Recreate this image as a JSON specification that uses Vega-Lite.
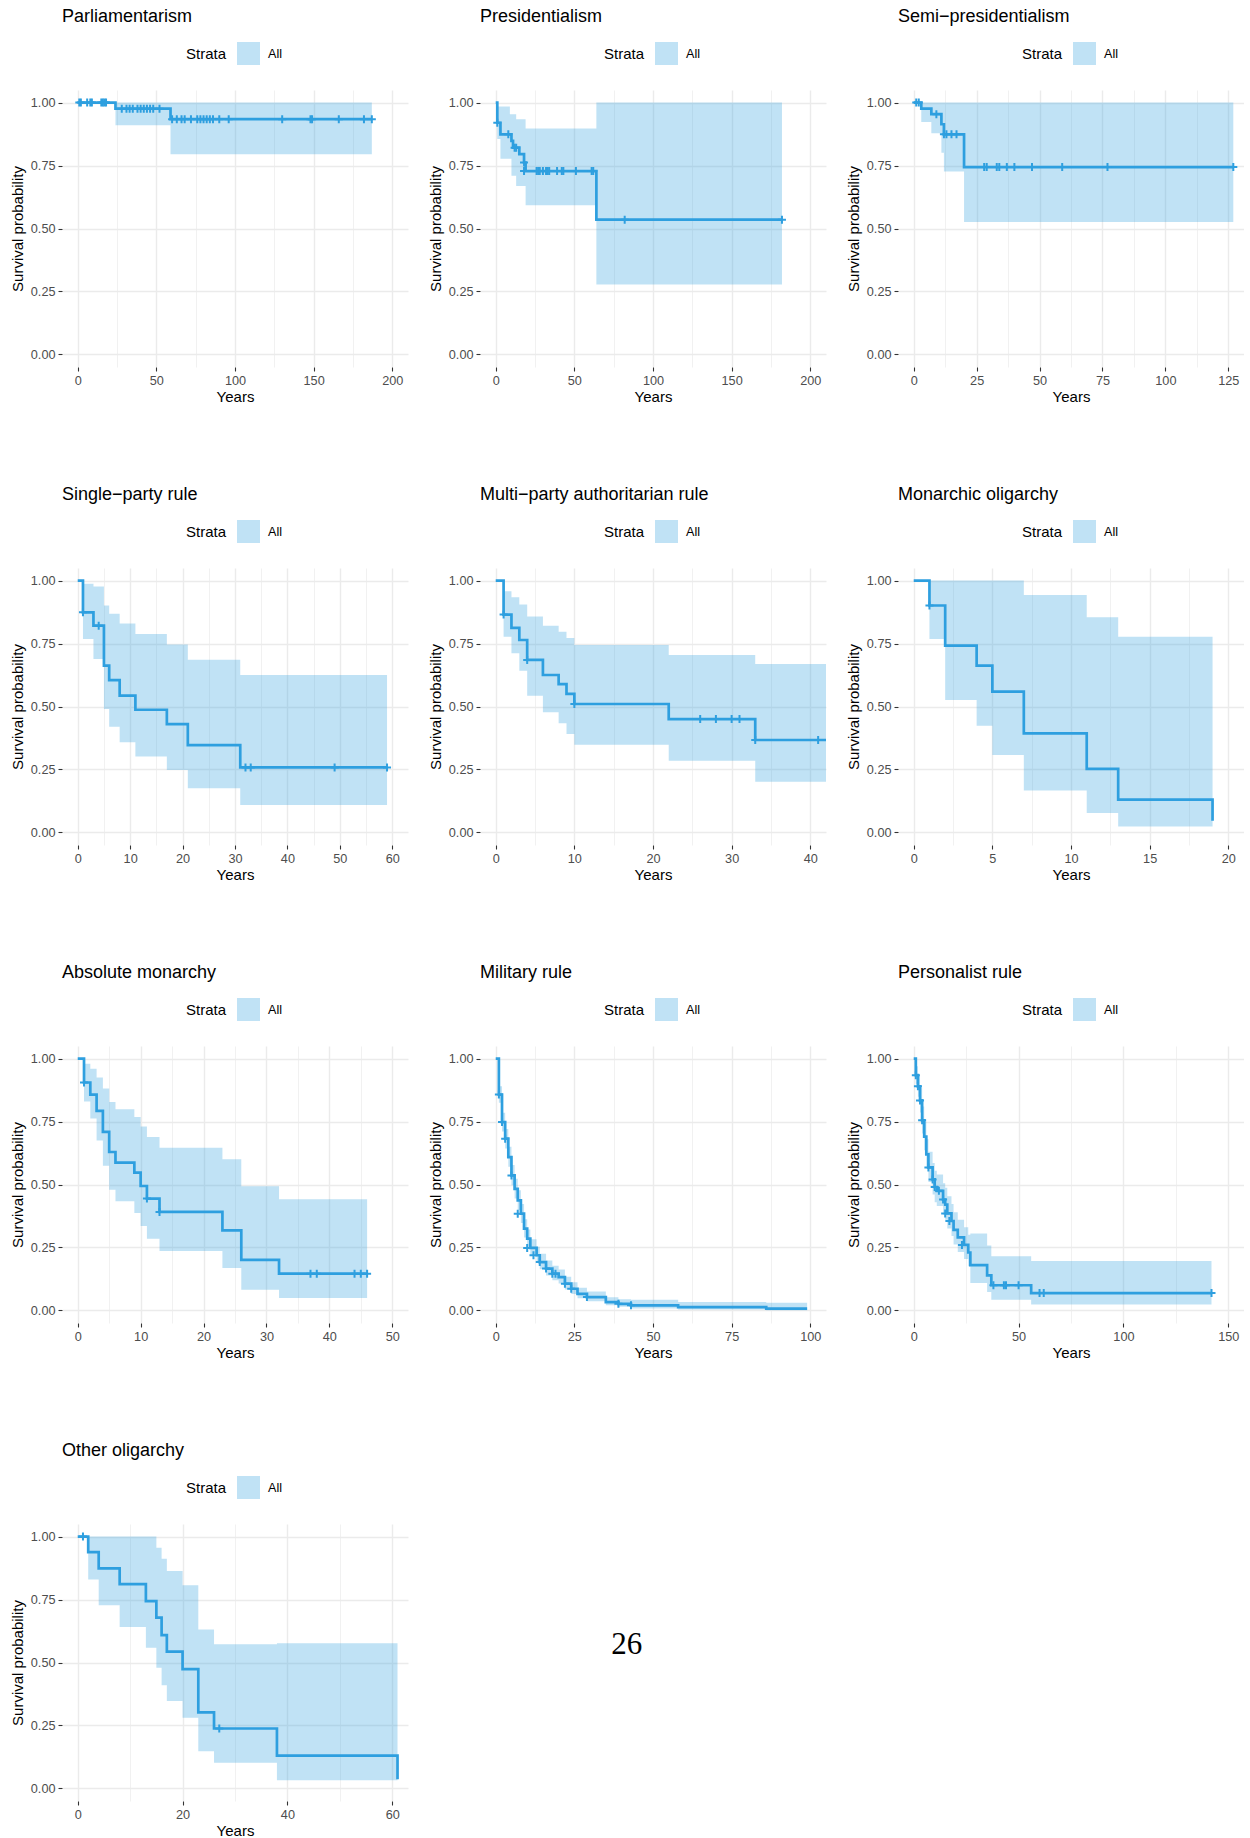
{
"$schema": "https://vega.github.io/schema/vega-lite/v6.json",
"padding": {"left": 10, "top": 8, "right": 0, "bottom": 0},
"background": "white",
"columns": 3,
"spacing": {"column": 72, "row": 201},
"bounds": "flush",
"resolve": {"scale": {"fill": "independent"}, "legend": {"fill": "independent"}},
"datasets": {
"p1": [{"t":0,"s":1,"u":1,"l":1},{"t":24,"s":0.976,"u":1,"l":0.91},{"t":59,"s":0.934,"u":1,"l":0.795},{"t":187,"s":0.934,"u":1,"l":0.795}],
"c1": [{"t":1,"s":1},{"t":2,"s":1},{"t":6,"s":1},{"t":8,"s":1},{"t":9,"s":1},{"t":15,"s":1},{"t":16,"s":1},{"t":17,"s":1},{"t":18,"s":1},{"t":28,"s":0.976},{"t":31,"s":0.976},{"t":33,"s":0.976},{"t":35,"s":0.976},{"t":38,"s":0.976},{"t":40,"s":0.976},{"t":42,"s":0.976},{"t":44,"s":0.976},{"t":46,"s":0.976},{"t":48,"s":0.976},{"t":52,"s":0.976},{"t":60,"s":0.934},{"t":63,"s":0.934},{"t":66,"s":0.934},{"t":68,"s":0.934},{"t":72,"s":0.934},{"t":76,"s":0.934},{"t":78,"s":0.934},{"t":80,"s":0.934},{"t":82,"s":0.934},{"t":84,"s":0.934},{"t":86,"s":0.934},{"t":90,"s":0.934},{"t":96,"s":0.934},{"t":130,"s":0.934},{"t":148,"s":0.934},{"t":149,"s":0.934},{"t":166,"s":0.934},{"t":182,"s":0.934},{"t":187,"s":0.934}],
"p2": [{"t":0,"s":1,"u":1,"l":1},{"t":1,"s":0.92,"u":0.984,"l":0.855},{"t":3,"s":0.874,"u":0.984,"l":0.777},{"t":9,"s":0.874,"u":0.954,"l":0.777},{"t":10,"s":0.848,"u":0.954,"l":0.709},{"t":11,"s":0.821,"u":0.954,"l":0.709},{"t":13,"s":0.821,"u":0.934,"l":0.669},{"t":15,"s":0.795,"u":0.934,"l":0.669},{"t":18,"s":0.762,"u":0.934,"l":0.669},{"t":19,"s":0.728,"u":0.897,"l":0.592},{"t":64,"s":0.535,"u":1,"l":0.278},{"t":182,"s":0.535,"u":1,"l":0.278}],
"c2": [{"t":1,"s":0.92},{"t":8,"s":0.874},{"t":12,"s":0.821},{"t":13,"s":0.821},{"t":18,"s":0.762},{"t":18,"s":0.728},{"t":26,"s":0.728},{"t":27,"s":0.728},{"t":28,"s":0.728},{"t":30,"s":0.728},{"t":32,"s":0.728},{"t":33,"s":0.728},{"t":34,"s":0.728},{"t":39,"s":0.728},{"t":42,"s":0.728},{"t":43,"s":0.728},{"t":51,"s":0.728},{"t":61,"s":0.728},{"t":62,"s":0.728},{"t":82,"s":0.535},{"t":182,"s":0.535}],
"p3": [{"t":0,"s":1,"u":1,"l":1},{"t":3,"s":0.976,"u":1,"l":0.923},{"t":7,"s":0.954,"u":1,"l":0.878},{"t":11,"s":0.914,"u":1,"l":0.801},{"t":12,"s":0.874,"u":1,"l":0.726},{"t":20,"s":0.744,"u":1,"l":0.526},{"t":127,"s":0.744,"u":1,"l":0.526}],
"c3": [{"t":1,"s":1},{"t":2,"s":1},{"t":9,"s":0.954},{"t":12,"s":0.874},{"t":13,"s":0.874},{"t":15,"s":0.874},{"t":17,"s":0.874},{"t":28,"s":0.744},{"t":29,"s":0.744},{"t":33,"s":0.744},{"t":34,"s":0.744},{"t":37,"s":0.744},{"t":40,"s":0.744},{"t":47,"s":0.744},{"t":59,"s":0.744},{"t":77,"s":0.744},{"t":127,"s":0.744}],
"p4": [{"t":0,"s":1,"u":1,"l":1},{"t":1,"s":0.874,"u":0.987,"l":0.768},{"t":3,"s":0.821,"u":0.977,"l":0.689},{"t":5,"s":0.662,"u":0.901,"l":0.49},{"t":6,"s":0.605,"u":0.868,"l":0.42},{"t":8,"s":0.543,"u":0.83,"l":0.358},{"t":11,"s":0.487,"u":0.788,"l":0.301},{"t":17,"s":0.43,"u":0.746,"l":0.248},{"t":21,"s":0.347,"u":0.686,"l":0.175},{"t":31,"s":0.258,"u":0.625,"l":0.109},{"t":59,"s":0.258,"u":0.625,"l":0.109}],
"c4": [{"t":1,"s":0.874},{"t":4,"s":0.821},{"t":32,"s":0.258},{"t":33,"s":0.258},{"t":49,"s":0.258},{"t":59,"s":0.258}],
"p5": [{"t":0,"s":1,"u":1,"l":1},{"t":1,"s":0.865,"u":0.958,"l":0.777},{"t":2,"s":0.812,"u":0.934,"l":0.711},{"t":3,"s":0.764,"u":0.905,"l":0.642},{"t":4,"s":0.685,"u":0.857,"l":0.543},{"t":6,"s":0.625,"u":0.821,"l":0.477},{"t":8,"s":0.589,"u":0.797,"l":0.433},{"t":9,"s":0.55,"u":0.772,"l":0.391},{"t":10,"s":0.51,"u":0.744,"l":0.348},{"t":22,"s":0.45,"u":0.705,"l":0.285},{"t":33,"s":0.367,"u":0.669,"l":0.201},{"t":45,"s":0.367,"u":0.669,"l":0.201}],
"c5": [{"t":1,"s":0.865},{"t":4,"s":0.685},{"t":10,"s":0.51},{"t":26,"s":0.45},{"t":28,"s":0.45},{"t":30,"s":0.45},{"t":31,"s":0.45},{"t":33,"s":0.367},{"t":41,"s":0.367}],
"p6": [{"t":0,"s":1,"u":1,"l":1},{"t":1,"s":0.901,"u":1,"l":0.768},{"t":2,"s":0.742,"u":1,"l":0.526},{"t":4,"s":0.662,"u":1,"l":0.424},{"t":5,"s":0.559,"u":1,"l":0.307},{"t":7,"s":0.393,"u":0.943,"l":0.166},{"t":11,"s":0.252,"u":0.854,"l":0.077},{"t":13,"s":0.13,"u":0.777,"l":0.023},{"t":19,"s":0.046,"u":0.777,"l":0.023}],
"c6": [{"t":1,"s":0.901}],
"p7": [{"t":0,"s":1,"u":1,"l":1},{"t":1,"s":0.905,"u":0.98,"l":0.83},{"t":2,"s":0.857,"u":0.96,"l":0.762},{"t":3,"s":0.792,"u":0.925,"l":0.675},{"t":4,"s":0.709,"u":0.881,"l":0.574},{"t":5,"s":0.629,"u":0.828,"l":0.479},{"t":6,"s":0.587,"u":0.799,"l":0.433},{"t":9,"s":0.547,"u":0.768,"l":0.387},{"t":10,"s":0.494,"u":0.73,"l":0.335},{"t":11,"s":0.444,"u":0.689,"l":0.285},{"t":13,"s":0.391,"u":0.646,"l":0.236},{"t":23,"s":0.318,"u":0.6,"l":0.168},{"t":26,"s":0.201,"u":0.493,"l":0.082},{"t":32,"s":0.146,"u":0.441,"l":0.049},{"t":46,"s":0.146,"u":0.441,"l":0.049}],
"c7": [{"t":1,"s":0.905},{"t":11,"s":0.444},{"t":13,"s":0.391},{"t":37,"s":0.146},{"t":38,"s":0.146},{"t":44,"s":0.146},{"t":45,"s":0.146},{"t":46,"s":0.146}],
"p8": [{"t":0,"s":1,"u":1,"l":1},{"t":1,"s":0.857,"u":0.89,"l":0.825},{"t":2,"s":0.748,"u":0.785,"l":0.71},{"t":3,"s":0.682,"u":0.72,"l":0.643},{"t":4,"s":0.609,"u":0.65,"l":0.57},{"t":5,"s":0.536,"u":0.577,"l":0.497},{"t":6,"s":0.483,"u":0.523,"l":0.444},{"t":7,"s":0.437,"u":0.477,"l":0.399},{"t":8,"s":0.384,"u":0.423,"l":0.347},{"t":9,"s":0.325,"u":0.362,"l":0.29},{"t":10,"s":0.285,"u":0.321,"l":0.252},{"t":11,"s":0.248,"u":0.283,"l":0.216},{"t":13,"s":0.219,"u":0.253,"l":0.189},{"t":14,"s":0.192,"u":0.225,"l":0.163},{"t":16,"s":0.166,"u":0.198,"l":0.139},{"t":18,"s":0.146,"u":0.177,"l":0.12},{"t":20,"s":0.132,"u":0.162,"l":0.107},{"t":22,"s":0.106,"u":0.134,"l":0.083},{"t":24,"s":0.086,"u":0.112,"l":0.065},{"t":26,"s":0.066,"u":0.09,"l":0.048},{"t":29,"s":0.053,"u":0.075,"l":0.036},{"t":35,"s":0.033,"u":0.052,"l":0.02},{"t":39,"s":0.026,"u":0.044,"l":0.015},{"t":43,"s":0.02,"u":0.042,"l":0.008},{"t":58,"s":0.013,"u":0.033,"l":0.004},{"t":86,"s":0.007,"u":0.03,"l":0.001},{"t":99,"s":0.007,"u":0.03,"l":0.001}],
"c8": [{"t":1,"s":0.857},{"t":2,"s":0.748},{"t":3,"s":0.682},{"t":5,"s":0.536},{"t":7,"s":0.384},{"t":10,"s":0.248},{"t":12,"s":0.219},{"t":14,"s":0.192},{"t":16,"s":0.166},{"t":18,"s":0.146},{"t":19,"s":0.146},{"t":22,"s":0.106},{"t":24,"s":0.086},{"t":29,"s":0.053},{"t":39,"s":0.026},{"t":43,"s":0.02}],
"p9": [{"t":0,"s":1,"u":1,"l":1},{"t":1,"s":0.934,"u":0.97,"l":0.9},{"t":2,"s":0.89,"u":0.935,"l":0.848},{"t":3,"s":0.834,"u":0.885,"l":0.786},{"t":4,"s":0.755,"u":0.81,"l":0.703},{"t":5,"s":0.69,"u":0.75,"l":0.636},{"t":6,"s":0.62,"u":0.68,"l":0.563},{"t":7,"s":0.568,"u":0.63,"l":0.51},{"t":9,"s":0.52,"u":0.585,"l":0.46},{"t":10,"s":0.49,"u":0.555,"l":0.43},{"t":11,"s":0.475,"u":0.54,"l":0.415},{"t":14,"s":0.44,"u":0.505,"l":0.38},{"t":15,"s":0.42,"u":0.487,"l":0.36},{"t":16,"s":0.385,"u":0.453,"l":0.325},{"t":18,"s":0.355,"u":0.423,"l":0.295},{"t":19,"s":0.32,"u":0.39,"l":0.262},{"t":21,"s":0.29,"u":0.36,"l":0.232},{"t":24,"s":0.26,"u":0.33,"l":0.204},{"t":26,"s":0.23,"u":0.3,"l":0.175},{"t":27,"s":0.18,"u":0.305,"l":0.109},{"t":35,"s":0.139,"u":0.258,"l":0.073},{"t":37,"s":0.1,"u":0.215,"l":0.042},{"t":56,"s":0.069,"u":0.196,"l":0.023},{"t":142,"s":0.069,"u":0.196,"l":0.023}],
"c9": [{"t":1,"s":0.934},{"t":2,"s":0.89},{"t":3,"s":0.834},{"t":4,"s":0.755},{"t":7,"s":0.568},{"t":9,"s":0.52},{"t":10,"s":0.49},{"t":12,"s":0.475},{"t":14,"s":0.44},{"t":15,"s":0.385},{"t":17,"s":0.355},{"t":23,"s":0.26},{"t":38,"s":0.1},{"t":43,"s":0.1},{"t":44,"s":0.1},{"t":50,"s":0.1},{"t":60,"s":0.069},{"t":62,"s":0.069},{"t":142,"s":0.069}],
"p10": [{"t":0,"s":1,"u":1,"l":1},{"t":2,"s":0.938,"u":1,"l":0.83},{"t":4,"s":0.874,"u":1,"l":0.727},{"t":8,"s":0.811,"u":1,"l":0.641},{"t":13,"s":0.744,"u":1,"l":0.559},{"t":15,"s":0.678,"u":0.956,"l":0.479},{"t":16,"s":0.609,"u":0.912,"l":0.41},{"t":17,"s":0.543,"u":0.863,"l":0.347},{"t":20,"s":0.474,"u":0.807,"l":0.281},{"t":23,"s":0.302,"u":0.631,"l":0.148},{"t":26,"s":0.238,"u":0.572,"l":0.102},{"t":38,"s":0.13,"u":0.576,"l":0.032},{"t":61,"s":0.036,"u":0.576,"l":0.032}],
"c10": [{"t":1,"s":1},{"t":27,"s":0.238}],
"page": [{"x":0.424,"y":0.53,"label":"26"}]
},
"concat": [
{"width":346,"height":277,"title":{"text":"Parliamentarism"},
 "encoding":{"x":{"field":"t","type":"quantitative","title":"Years","scale":{"domain":[-10,210],"nice":false,"zero":false},"axis":{"values":[0,25,50,75,100,125,150,175,200],"format":"d","labelExpr":"datum.value % 50 === 0 ? datum.label : ''","tickOpacity":{"condition":{"test":"datum.value % 50 === 0","value":1},"value":0},"gridWidth":{"condition":{"test":"datum.value % 50 === 0","value":1.4},"value":0.7}}}},
 "layer":[
  {"data":{"name":"p1"},"mark":{"type":"area","interpolate":"step-after","opacity":0.3,"clip":true},
   "encoding":{"y":{"field":"l","type":"quantitative","title":"Survival probability","scale":{"domain":[-0.05,1.05],"nice":false,"zero":false},"axis":{"values":[0,0.125,0.25,0.375,0.5,0.625,0.75,0.875,1],"format":".2f","labelExpr":"datum.value % 0.25 === 0 ? datum.label : ''","tickOpacity":{"condition":{"test":"datum.value % 0.25 === 0","value":1},"value":0},"gridWidth":{"condition":{"test":"datum.value % 0.25 === 0","value":1.4},"value":0.7}}},"y2":{"field":"u"},
   "fill":{"datum":"All","type":"nominal","scale":{"range":["#2E9FDF"]},"legend":{"title":"Strata","orient":"none","legendX":124,"legendY":-48}}}},
  {"data":{"name":"p1"},"mark":{"type":"line","interpolate":"step-after","color":"#2E9FDF","strokeWidth":2.7,"clip":true},"encoding":{"y":{"field":"s","type":"quantitative","title":"Survival probability"}}},
  {"data":{"name":"c1"},"mark":{"type":"point","shape":"M-1,0H1M0,-1V1","size":64,"filled":false,"color":"#2E9FDF","strokeWidth":2,"opacity":1,"clip":true},"encoding":{"y":{"field":"s","type":"quantitative","title":"Survival probability"}}}
 ]},
{"width":346,"height":277,"title":{"text":"Presidentialism"},
 "encoding":{"x":{"field":"t","type":"quantitative","title":"Years","scale":{"domain":[-10,210],"nice":false,"zero":false},"axis":{"values":[0,25,50,75,100,125,150,175,200],"format":"d","labelExpr":"datum.value % 50 === 0 ? datum.label : ''","tickOpacity":{"condition":{"test":"datum.value % 50 === 0","value":1},"value":0},"gridWidth":{"condition":{"test":"datum.value % 50 === 0","value":1.4},"value":0.7}}}},
 "layer":[
  {"data":{"name":"p2"},"mark":{"type":"area","interpolate":"step-after","opacity":0.3,"clip":true},
   "encoding":{"y":{"field":"l","type":"quantitative","title":"Survival probability","scale":{"domain":[-0.05,1.05],"nice":false,"zero":false},"axis":{"values":[0,0.125,0.25,0.375,0.5,0.625,0.75,0.875,1],"format":".2f","labelExpr":"datum.value % 0.25 === 0 ? datum.label : ''","tickOpacity":{"condition":{"test":"datum.value % 0.25 === 0","value":1},"value":0},"gridWidth":{"condition":{"test":"datum.value % 0.25 === 0","value":1.4},"value":0.7}}},"y2":{"field":"u"},
   "fill":{"datum":"All","type":"nominal","scale":{"range":["#2E9FDF"]},"legend":{"title":"Strata","orient":"none","legendX":124,"legendY":-48}}}},
  {"data":{"name":"p2"},"mark":{"type":"line","interpolate":"step-after","color":"#2E9FDF","strokeWidth":2.7,"clip":true},"encoding":{"y":{"field":"s","type":"quantitative","title":"Survival probability"}}},
  {"data":{"name":"c2"},"mark":{"type":"point","shape":"M-1,0H1M0,-1V1","size":64,"filled":false,"color":"#2E9FDF","strokeWidth":2,"opacity":1,"clip":true},"encoding":{"y":{"field":"s","type":"quantitative","title":"Survival probability"}}}
 ]},
{"width":346,"height":277,"title":{"text":"Semi−presidentialism"},
 "encoding":{"x":{"field":"t","type":"quantitative","title":"Years","scale":{"domain":[-6.25,131.25],"nice":false,"zero":false},"axis":{"values":[0,12.5,25,37.5,50,62.5,75,87.5,100,112.5,125],"format":"d","labelExpr":"datum.value % 25 === 0 ? datum.label : ''","tickOpacity":{"condition":{"test":"datum.value % 25 === 0","value":1},"value":0},"gridWidth":{"condition":{"test":"datum.value % 25 === 0","value":1.4},"value":0.7}}}},
 "layer":[
  {"data":{"name":"p3"},"mark":{"type":"area","interpolate":"step-after","opacity":0.3,"clip":true},
   "encoding":{"y":{"field":"l","type":"quantitative","title":"Survival probability","scale":{"domain":[-0.05,1.05],"nice":false,"zero":false},"axis":{"values":[0,0.125,0.25,0.375,0.5,0.625,0.75,0.875,1],"format":".2f","labelExpr":"datum.value % 0.25 === 0 ? datum.label : ''","tickOpacity":{"condition":{"test":"datum.value % 0.25 === 0","value":1},"value":0},"gridWidth":{"condition":{"test":"datum.value % 0.25 === 0","value":1.4},"value":0.7}}},"y2":{"field":"u"},
   "fill":{"datum":"All","type":"nominal","scale":{"range":["#2E9FDF"]},"legend":{"title":"Strata","orient":"none","legendX":124,"legendY":-48}}}},
  {"data":{"name":"p3"},"mark":{"type":"line","interpolate":"step-after","color":"#2E9FDF","strokeWidth":2.7,"clip":true},"encoding":{"y":{"field":"s","type":"quantitative","title":"Survival probability"}}},
  {"data":{"name":"c3"},"mark":{"type":"point","shape":"M-1,0H1M0,-1V1","size":64,"filled":false,"color":"#2E9FDF","strokeWidth":2,"opacity":1,"clip":true},"encoding":{"y":{"field":"s","type":"quantitative","title":"Survival probability"}}}
 ]},
{"width":346,"height":277,"title":{"text":"Single−party rule"},
 "encoding":{"x":{"field":"t","type":"quantitative","title":"Years","scale":{"domain":[-3,63],"nice":false,"zero":false},"axis":{"values":[0,5,10,15,20,25,30,35,40,45,50,55,60],"format":"d","labelExpr":"datum.value % 10 === 0 ? datum.label : ''","tickOpacity":{"condition":{"test":"datum.value % 10 === 0","value":1},"value":0},"gridWidth":{"condition":{"test":"datum.value % 10 === 0","value":1.4},"value":0.7}}}},
 "layer":[
  {"data":{"name":"p4"},"mark":{"type":"area","interpolate":"step-after","opacity":0.3,"clip":true},
   "encoding":{"y":{"field":"l","type":"quantitative","title":"Survival probability","scale":{"domain":[-0.05,1.05],"nice":false,"zero":false},"axis":{"values":[0,0.125,0.25,0.375,0.5,0.625,0.75,0.875,1],"format":".2f","labelExpr":"datum.value % 0.25 === 0 ? datum.label : ''","tickOpacity":{"condition":{"test":"datum.value % 0.25 === 0","value":1},"value":0},"gridWidth":{"condition":{"test":"datum.value % 0.25 === 0","value":1.4},"value":0.7}}},"y2":{"field":"u"},
   "fill":{"datum":"All","type":"nominal","scale":{"range":["#2E9FDF"]},"legend":{"title":"Strata","orient":"none","legendX":124,"legendY":-48}}}},
  {"data":{"name":"p4"},"mark":{"type":"line","interpolate":"step-after","color":"#2E9FDF","strokeWidth":2.7,"clip":true},"encoding":{"y":{"field":"s","type":"quantitative","title":"Survival probability"}}},
  {"data":{"name":"c4"},"mark":{"type":"point","shape":"M-1,0H1M0,-1V1","size":64,"filled":false,"color":"#2E9FDF","strokeWidth":2,"opacity":1,"clip":true},"encoding":{"y":{"field":"s","type":"quantitative","title":"Survival probability"}}}
 ]},
{"width":346,"height":277,"title":{"text":"Multi−party authoritarian rule"},
 "encoding":{"x":{"field":"t","type":"quantitative","title":"Years","scale":{"domain":[-2,42],"nice":false,"zero":false},"axis":{"values":[0,5,10,15,20,25,30,35,40],"format":"d","labelExpr":"datum.value % 10 === 0 ? datum.label : ''","tickOpacity":{"condition":{"test":"datum.value % 10 === 0","value":1},"value":0},"gridWidth":{"condition":{"test":"datum.value % 10 === 0","value":1.4},"value":0.7}}}},
 "layer":[
  {"data":{"name":"p5"},"mark":{"type":"area","interpolate":"step-after","opacity":0.3,"clip":true},
   "encoding":{"y":{"field":"l","type":"quantitative","title":"Survival probability","scale":{"domain":[-0.05,1.05],"nice":false,"zero":false},"axis":{"values":[0,0.125,0.25,0.375,0.5,0.625,0.75,0.875,1],"format":".2f","labelExpr":"datum.value % 0.25 === 0 ? datum.label : ''","tickOpacity":{"condition":{"test":"datum.value % 0.25 === 0","value":1},"value":0},"gridWidth":{"condition":{"test":"datum.value % 0.25 === 0","value":1.4},"value":0.7}}},"y2":{"field":"u"},
   "fill":{"datum":"All","type":"nominal","scale":{"range":["#2E9FDF"]},"legend":{"title":"Strata","orient":"none","legendX":124,"legendY":-48}}}},
  {"data":{"name":"p5"},"mark":{"type":"line","interpolate":"step-after","color":"#2E9FDF","strokeWidth":2.7,"clip":true},"encoding":{"y":{"field":"s","type":"quantitative","title":"Survival probability"}}},
  {"data":{"name":"c5"},"mark":{"type":"point","shape":"M-1,0H1M0,-1V1","size":64,"filled":false,"color":"#2E9FDF","strokeWidth":2,"opacity":1,"clip":true},"encoding":{"y":{"field":"s","type":"quantitative","title":"Survival probability"}}}
 ]},
{"width":346,"height":277,"title":{"text":"Monarchic oligarchy"},
 "encoding":{"x":{"field":"t","type":"quantitative","title":"Years","scale":{"domain":[-1,21],"nice":false,"zero":false},"axis":{"values":[0,2.5,5,7.5,10,12.5,15,17.5,20],"format":"d","labelExpr":"datum.value % 5 === 0 ? datum.label : ''","tickOpacity":{"condition":{"test":"datum.value % 5 === 0","value":1},"value":0},"gridWidth":{"condition":{"test":"datum.value % 5 === 0","value":1.4},"value":0.7}}}},
 "layer":[
  {"data":{"name":"p6"},"mark":{"type":"area","interpolate":"step-after","opacity":0.3,"clip":true},
   "encoding":{"y":{"field":"l","type":"quantitative","title":"Survival probability","scale":{"domain":[-0.05,1.05],"nice":false,"zero":false},"axis":{"values":[0,0.125,0.25,0.375,0.5,0.625,0.75,0.875,1],"format":".2f","labelExpr":"datum.value % 0.25 === 0 ? datum.label : ''","tickOpacity":{"condition":{"test":"datum.value % 0.25 === 0","value":1},"value":0},"gridWidth":{"condition":{"test":"datum.value % 0.25 === 0","value":1.4},"value":0.7}}},"y2":{"field":"u"},
   "fill":{"datum":"All","type":"nominal","scale":{"range":["#2E9FDF"]},"legend":{"title":"Strata","orient":"none","legendX":124,"legendY":-48}}}},
  {"data":{"name":"p6"},"mark":{"type":"line","interpolate":"step-after","color":"#2E9FDF","strokeWidth":2.7,"clip":true},"encoding":{"y":{"field":"s","type":"quantitative","title":"Survival probability"}}},
  {"data":{"name":"c6"},"mark":{"type":"point","shape":"M-1,0H1M0,-1V1","size":64,"filled":false,"color":"#2E9FDF","strokeWidth":2,"opacity":1,"clip":true},"encoding":{"y":{"field":"s","type":"quantitative","title":"Survival probability"}}}
 ]},
{"width":346,"height":277,"title":{"text":"Absolute monarchy"},
 "encoding":{"x":{"field":"t","type":"quantitative","title":"Years","scale":{"domain":[-2.5,52.5],"nice":false,"zero":false},"axis":{"values":[0,5,10,15,20,25,30,35,40,45,50],"format":"d","labelExpr":"datum.value % 10 === 0 ? datum.label : ''","tickOpacity":{"condition":{"test":"datum.value % 10 === 0","value":1},"value":0},"gridWidth":{"condition":{"test":"datum.value % 10 === 0","value":1.4},"value":0.7}}}},
 "layer":[
  {"data":{"name":"p7"},"mark":{"type":"area","interpolate":"step-after","opacity":0.3,"clip":true},
   "encoding":{"y":{"field":"l","type":"quantitative","title":"Survival probability","scale":{"domain":[-0.05,1.05],"nice":false,"zero":false},"axis":{"values":[0,0.125,0.25,0.375,0.5,0.625,0.75,0.875,1],"format":".2f","labelExpr":"datum.value % 0.25 === 0 ? datum.label : ''","tickOpacity":{"condition":{"test":"datum.value % 0.25 === 0","value":1},"value":0},"gridWidth":{"condition":{"test":"datum.value % 0.25 === 0","value":1.4},"value":0.7}}},"y2":{"field":"u"},
   "fill":{"datum":"All","type":"nominal","scale":{"range":["#2E9FDF"]},"legend":{"title":"Strata","orient":"none","legendX":124,"legendY":-48}}}},
  {"data":{"name":"p7"},"mark":{"type":"line","interpolate":"step-after","color":"#2E9FDF","strokeWidth":2.7,"clip":true},"encoding":{"y":{"field":"s","type":"quantitative","title":"Survival probability"}}},
  {"data":{"name":"c7"},"mark":{"type":"point","shape":"M-1,0H1M0,-1V1","size":64,"filled":false,"color":"#2E9FDF","strokeWidth":2,"opacity":1,"clip":true},"encoding":{"y":{"field":"s","type":"quantitative","title":"Survival probability"}}}
 ]},
{"width":346,"height":277,"title":{"text":"Military rule"},
 "encoding":{"x":{"field":"t","type":"quantitative","title":"Years","scale":{"domain":[-5,105],"nice":false,"zero":false},"axis":{"values":[0,12.5,25,37.5,50,62.5,75,87.5,100],"format":"d","labelExpr":"datum.value % 25 === 0 ? datum.label : ''","tickOpacity":{"condition":{"test":"datum.value % 25 === 0","value":1},"value":0},"gridWidth":{"condition":{"test":"datum.value % 25 === 0","value":1.4},"value":0.7}}}},
 "layer":[
  {"data":{"name":"p8"},"mark":{"type":"area","interpolate":"step-after","opacity":0.3,"clip":true},
   "encoding":{"y":{"field":"l","type":"quantitative","title":"Survival probability","scale":{"domain":[-0.05,1.05],"nice":false,"zero":false},"axis":{"values":[0,0.125,0.25,0.375,0.5,0.625,0.75,0.875,1],"format":".2f","labelExpr":"datum.value % 0.25 === 0 ? datum.label : ''","tickOpacity":{"condition":{"test":"datum.value % 0.25 === 0","value":1},"value":0},"gridWidth":{"condition":{"test":"datum.value % 0.25 === 0","value":1.4},"value":0.7}}},"y2":{"field":"u"},
   "fill":{"datum":"All","type":"nominal","scale":{"range":["#2E9FDF"]},"legend":{"title":"Strata","orient":"none","legendX":124,"legendY":-48}}}},
  {"data":{"name":"p8"},"mark":{"type":"line","interpolate":"step-after","color":"#2E9FDF","strokeWidth":2.7,"clip":true},"encoding":{"y":{"field":"s","type":"quantitative","title":"Survival probability"}}},
  {"data":{"name":"c8"},"mark":{"type":"point","shape":"M-1,0H1M0,-1V1","size":64,"filled":false,"color":"#2E9FDF","strokeWidth":2,"opacity":1,"clip":true},"encoding":{"y":{"field":"s","type":"quantitative","title":"Survival probability"}}}
 ]},
{"width":346,"height":277,"title":{"text":"Personalist rule"},
 "encoding":{"x":{"field":"t","type":"quantitative","title":"Years","scale":{"domain":[-7.5,157.5],"nice":false,"zero":false},"axis":{"values":[0,25,50,75,100,125,150],"format":"d","labelExpr":"datum.value % 50 === 0 ? datum.label : ''","tickOpacity":{"condition":{"test":"datum.value % 50 === 0","value":1},"value":0},"gridWidth":{"condition":{"test":"datum.value % 50 === 0","value":1.4},"value":0.7}}}},
 "layer":[
  {"data":{"name":"p9"},"mark":{"type":"area","interpolate":"step-after","opacity":0.3,"clip":true},
   "encoding":{"y":{"field":"l","type":"quantitative","title":"Survival probability","scale":{"domain":[-0.05,1.05],"nice":false,"zero":false},"axis":{"values":[0,0.125,0.25,0.375,0.5,0.625,0.75,0.875,1],"format":".2f","labelExpr":"datum.value % 0.25 === 0 ? datum.label : ''","tickOpacity":{"condition":{"test":"datum.value % 0.25 === 0","value":1},"value":0},"gridWidth":{"condition":{"test":"datum.value % 0.25 === 0","value":1.4},"value":0.7}}},"y2":{"field":"u"},
   "fill":{"datum":"All","type":"nominal","scale":{"range":["#2E9FDF"]},"legend":{"title":"Strata","orient":"none","legendX":124,"legendY":-48}}}},
  {"data":{"name":"p9"},"mark":{"type":"line","interpolate":"step-after","color":"#2E9FDF","strokeWidth":2.7,"clip":true},"encoding":{"y":{"field":"s","type":"quantitative","title":"Survival probability"}}},
  {"data":{"name":"c9"},"mark":{"type":"point","shape":"M-1,0H1M0,-1V1","size":64,"filled":false,"color":"#2E9FDF","strokeWidth":2,"opacity":1,"clip":true},"encoding":{"y":{"field":"s","type":"quantitative","title":"Survival probability"}}}
 ]},
{"width":346,"height":277,"title":{"text":"Other oligarchy"},
 "encoding":{"x":{"field":"t","type":"quantitative","title":"Years","scale":{"domain":[-3,63],"nice":false,"zero":false},"axis":{"values":[0,10,20,30,40,50,60],"format":"d","labelExpr":"datum.value % 20 === 0 ? datum.label : ''","tickOpacity":{"condition":{"test":"datum.value % 20 === 0","value":1},"value":0},"gridWidth":{"condition":{"test":"datum.value % 20 === 0","value":1.4},"value":0.7}}}},
 "layer":[
  {"data":{"name":"p10"},"mark":{"type":"area","interpolate":"step-after","opacity":0.3,"clip":true},
   "encoding":{"y":{"field":"l","type":"quantitative","title":"Survival probability","scale":{"domain":[-0.05,1.05],"nice":false,"zero":false},"axis":{"values":[0,0.125,0.25,0.375,0.5,0.625,0.75,0.875,1],"format":".2f","labelExpr":"datum.value % 0.25 === 0 ? datum.label : ''","tickOpacity":{"condition":{"test":"datum.value % 0.25 === 0","value":1},"value":0},"gridWidth":{"condition":{"test":"datum.value % 0.25 === 0","value":1.4},"value":0.7}}},"y2":{"field":"u"},
   "fill":{"datum":"All","type":"nominal","scale":{"range":["#2E9FDF"]},"legend":{"title":"Strata","orient":"none","legendX":124,"legendY":-48}}}},
  {"data":{"name":"p10"},"mark":{"type":"line","interpolate":"step-after","color":"#2E9FDF","strokeWidth":2.7,"clip":true},"encoding":{"y":{"field":"s","type":"quantitative","title":"Survival probability"}}},
  {"data":{"name":"c10"},"mark":{"type":"point","shape":"M-1,0H1M0,-1V1","size":64,"filled":false,"color":"#2E9FDF","strokeWidth":2,"opacity":1,"clip":true},"encoding":{"y":{"field":"s","type":"quantitative","title":"Survival probability"}}}
 ]},
{"width":346,"height":277,
 "data":{"name":"page"},
 "mark":{"type":"text","font":"Liberation Serif","fontSize":31,"align":"center","baseline":"alphabetic","color":"#000"},
 "encoding":{"x":{"field":"x","type":"quantitative","scale":{"domain":[0,1]},"axis":null},"y":{"field":"y","type":"quantitative","scale":{"domain":[0,1]},"axis":null},"text":{"field":"label"}}}
],
"config": {
 "font": "Liberation Sans",
 "view": {"stroke": null},
 "axis": {"domain": false, "labelColor": "#4D4D4D", "labelFontSize": 12.7, "titleFontSize": 15, "titleFontWeight": "normal", "titleColor": "#000", "tickColor": "#333333", "tickSize": 4, "tickWidth": 1.1, "gridColor": "#EBEBEB", "labelPadding": 3, "labelOverlap": false, "labelFlush": false},
 "axisY": {"titlePadding": 5},
 "axisX": {"titlePadding": 3},
 "legend": {"direction": "horizontal", "titleOrient": "left", "titleAnchor": "middle", "titleBaseline": "middle", "symbolType": "square", "symbolSize": 529, "symbolOpacity": 0.3, "symbolStrokeWidth": 0, "titleFontSize": 15, "titleFontWeight": "normal", "titleColor": "#000", "titlePadding": 10, "labelFontSize": 12.6, "labelColor": "#000", "labelOffset": 8, "padding": 0},
 "title": {"anchor": "start", "frame": "group", "fontSize": 18, "fontWeight": "normal", "color": "#000", "offset": 16}
}
}
